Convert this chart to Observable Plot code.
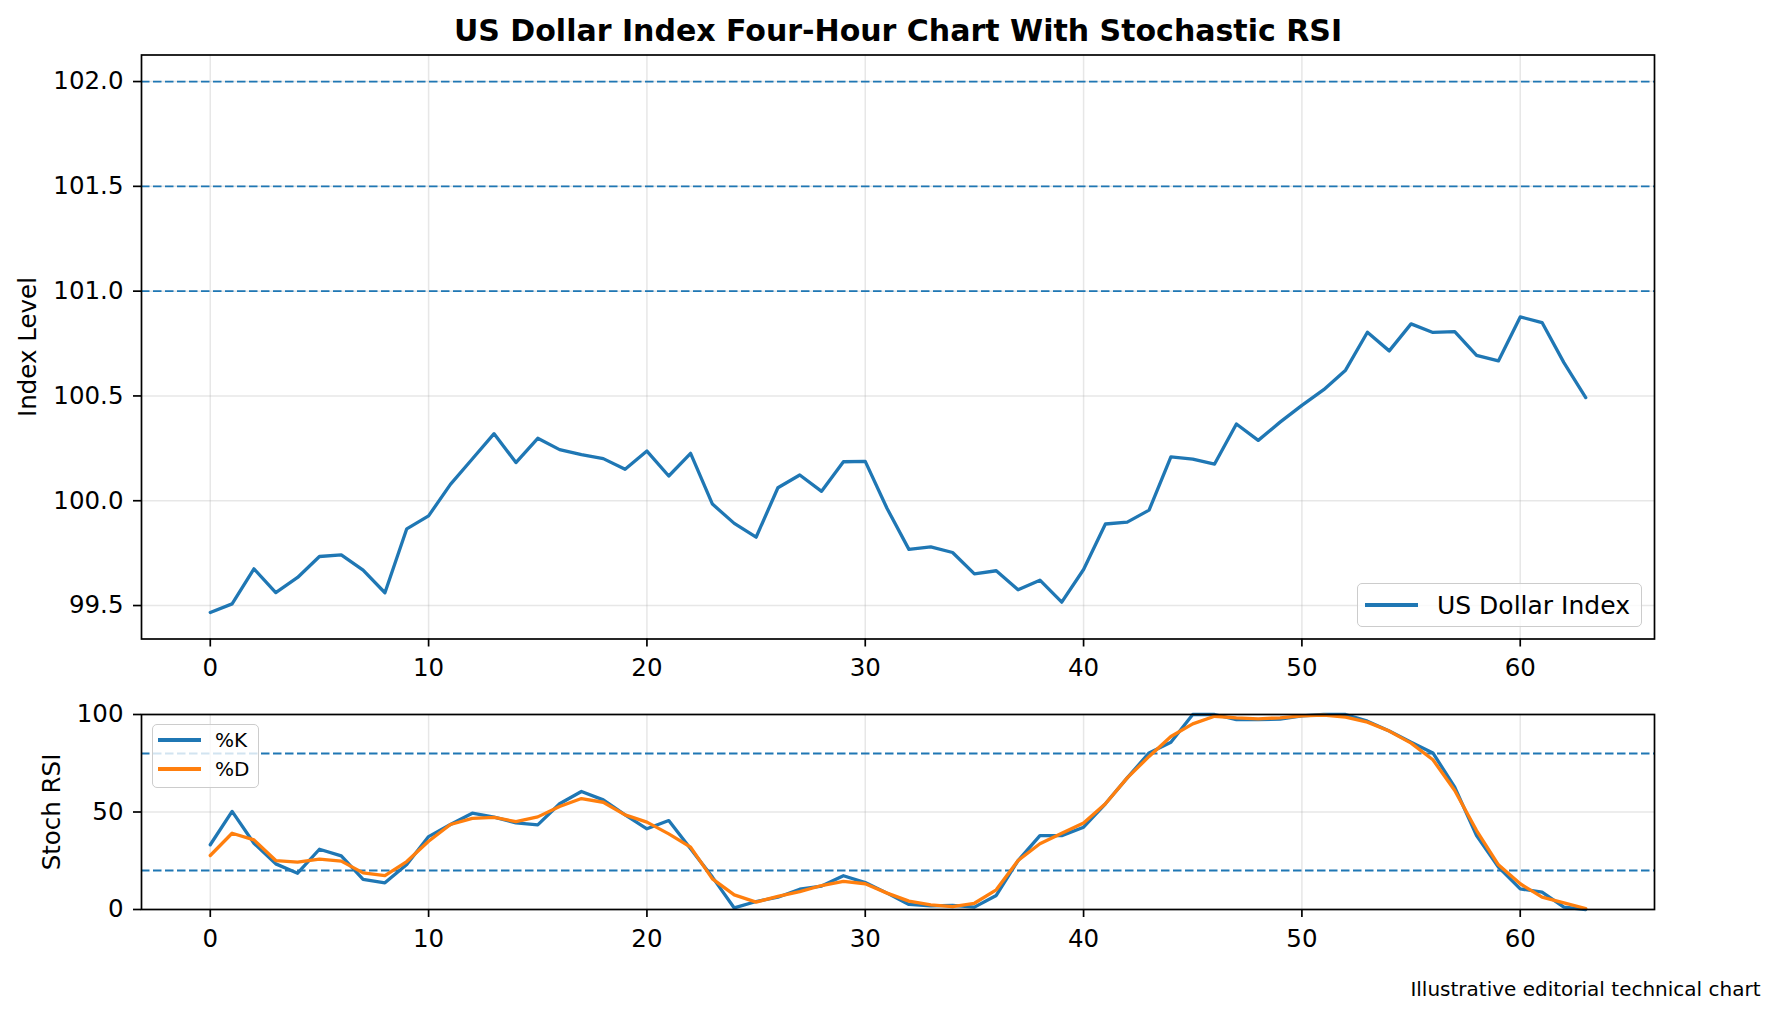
<!DOCTYPE html>
<html>
<head>
<meta charset="utf-8">
<script src="https://cdn.jsdelivr.net/npm/d3@7"></script>
<script src="https://cdn.jsdelivr.net/npm/@observablehq/plot@0.6"></script>
<style>
  html, body { margin: 0; padding: 0; background: white; }
  #root { position: relative; width: 1779px; height: 1017px; overflow: hidden; font-family: "DejaVu Sans", sans-serif; }
  #root svg { display: block; position: absolute; left: 0; }
  .legend { position: absolute; box-sizing: border-box; border: 1.5px solid #cccccc; border-radius: 5px; background: rgba(255,255,255,0.8); z-index: 5; }
  .row { position: absolute; left: 0; display: flex; align-items: center; white-space: nowrap; color: black; }
  .swatch { display: inline-block; height: 3.2px; }
</style>
</head>
<body>
<div id="root"></div>
<script>
// ---- data ----
const dxy = [99.467, 99.508, 99.675, 99.562, 99.634, 99.734, 99.742, 99.669, 99.561, 99.866,
  99.928, 100.078, 100.199, 100.320, 100.182, 100.298, 100.244, 100.220, 100.201, 100.150,
  100.237, 100.118, 100.226, 99.984, 99.892, 99.826, 100.062, 100.123, 100.045, 100.186,
  100.188, 99.963, 99.768, 99.780, 99.753, 99.651, 99.666, 99.575, 99.621, 99.516,
  99.672, 99.889, 99.898, 99.955, 100.209, 100.199, 100.175, 100.366, 100.288, 100.375,
  100.455, 100.530, 100.623, 100.804, 100.715, 100.844, 100.803, 100.807, 100.694, 100.667,
  100.877, 100.850, 100.659, 100.492];
const stochK = [33.2, 50.3, 34.0, 23.4, 18.6, 30.9, 27.5, 15.4, 13.7, 23.1,
  37.4, 43.6, 49.4, 47.4, 44.4, 43.4, 54.2, 60.5, 56.2, 48.5,
  41.4, 45.6, 31.1, 16.6, 0.8, 4.1, 6.3, 10.4, 12.0, 17.3,
  13.8, 8.4, 2.6, 1.9, 2.1, 1.2, 7.2, 25.1, 37.9, 37.9,
  42.2, 54.2, 67.5, 80.3, 85.8, 100, 100, 97.4, 97.4, 97.6,
  99.3, 100, 100, 96.6, 91.5, 85.8, 80.3, 62.7, 37.9, 21.7,
  10.6, 8.9, 1.2, 0];
const stochD = [27.7, 39.1, 35.7, 25.1, 24.3, 25.8, 24.8, 18.8, 17.4, 24.6,
  35.0, 43.6, 46.7, 47.2, 45.1, 47.5, 52.8, 56.9, 55.0, 48.5,
  44.8, 38.8, 32.0, 15.7, 7.5, 3.8, 6.7, 9.2, 12.3, 14.4,
  13.2, 8.4, 4.3, 2.4, 1.5, 3.2, 10.1, 25.1, 33.7, 39.1,
  44.4, 54.2, 67.5, 78.5, 88.7, 95.2, 99.1, 98.3, 97.8, 98.3,
  99.3, 99.7, 98.6, 96.1, 91.5, 85.3, 76.8, 61.0, 40.5, 22.9,
  13.2, 6.3, 3.4, 0.5];
const priceLevels = [101.0, 101.5, 102.0];
const stochLevels = [20, 80];
const xTicks = [0, 10, 20, 30, 40, 50, 60];
const yTicksTop = [99.5, 100.0, 100.5, 101.0, 101.5, 102.0];
const yTicksBottom = [0, 50, 100];
const titleText = "US Dollar Index Four-Hour Chart With Stochastic RSI";
const yLabelTop = "Index Level";
const yLabelBottom = "Stoch RSI";
const captionText = "Illustrative editorial technical chart";
const legendTop = ["US Dollar Index"];
const legendBottom = ["%K", "%D"];

// ---- tables ----
const priceRows = dxy.map((v, i) => ({i, v}));
const kRows = stochK.map((v, i) => ({i, v}));
const dRows = stochD.map((v, i) => ({i, v}));

const nLast = dxy.length - 1;
const xDomain = [0 - 0.05 * nLast, nLast + 0.05 * nLast];
const lo = Math.min(d3.min(dxy), d3.min(priceLevels));
const hi = Math.max(d3.max(dxy), d3.max(priceLevels));
const pad = 0.05 * (hi - lo);
const yDomainTop = [lo - pad, hi + pad];

const BLUE = "#1f77b4", ORANGE = "#ff7f0e";
const gridStyle = {stroke: "#b0b0b0", strokeOpacity: 0.3, strokeWidth: 1.5};
const dashStyle = {stroke: BLUE, strokeWidth: 1.8, strokeDasharray: "8.5,3.5"};
const commonStyle = {fontFamily: "DejaVu Sans", fontSize: "24.5px", background: "transparent", overflow: "visible", color: "black"};

const root = document.getElementById("root");

const topChart = Plot.plot({
  width: 1779, height: 700,
  marginLeft: 141, marginRight: 125, marginTop: 54.5, marginBottom: 61.5,
  style: commonStyle,
  x: {domain: xDomain},
  y: {domain: yDomainTop},
  marks: [
    Plot.gridX(xTicks, gridStyle),
    Plot.gridY(yTicksTop, gridStyle),
    Plot.ruleY(priceLevels, dashStyle),
    Plot.line(priceRows, {x: "i", y: "v", stroke: BLUE, strokeWidth: 3.3}),
    Plot.frame({stroke: "black", strokeWidth: 1.7}),
    Plot.axisX({ticks: xTicks, tickSize: 8, tickPadding: 12, strokeWidth: 1.7, label: null}),
    Plot.axisY({ticks: yTicksTop, tickFormat: d3.format(".1f"), tickSize: 8, tickPadding: 10, strokeWidth: 1.7, label: null}),
    Plot.text([titleText], {frameAnchor: "top", dy: -14, lineAnchor: "bottom", fontWeight: "bold", fontSize: 30}),
    Plot.text([yLabelTop], {frameAnchor: "left", dx: -113, rotate: -90, textAnchor: "middle", lineAnchor: "middle", fontSize: 24.5})
  ]
});
topChart.style.top = "0px";
root.appendChild(topChart);

const bottomChart = Plot.plot({
  width: 1779, height: 317,
  marginLeft: 141, marginRight: 125, marginTop: 14, marginBottom: 108,
  style: commonStyle,
  x: {domain: xDomain},
  y: {domain: [0, 100]},
  marks: [
    Plot.gridX(xTicks, gridStyle),
    Plot.gridY(yTicksBottom, gridStyle),
    Plot.ruleY(stochLevels, dashStyle),
    Plot.line(kRows, {x: "i", y: "v", stroke: BLUE, strokeWidth: 3.3}),
    Plot.line(dRows, {x: "i", y: "v", stroke: ORANGE, strokeWidth: 3.3}),
    Plot.frame({stroke: "black", strokeWidth: 1.7}),
    Plot.axisX({ticks: xTicks, tickSize: 8, tickPadding: 12, strokeWidth: 1.7, label: null}),
    Plot.axisY({ticks: yTicksBottom, tickSize: 8, tickPadding: 10, strokeWidth: 1.7, label: null}),
    Plot.text([yLabelBottom], {frameAnchor: "left", dx: -89, rotate: -90, textAnchor: "middle", lineAnchor: "middle", fontSize: 24.5}),
    Plot.text([captionText], {frameAnchor: "bottom-right", dx: 106, dy: 86, textAnchor: "end", lineAnchor: "bottom", fontSize: 20})
  ]
});
bottomChart.style.top = "700px";
root.appendChild(bottomChart);

// ---- legends (HTML) ----
function legend(box, rows) {
  const div = document.createElement("div");
  div.className = "legend";
  Object.assign(div.style, {left: box.left + "px", top: box.top + "px", width: box.width + "px", height: box.height + "px"});
  rows.forEach(r => {
    const row = document.createElement("div");
    row.className = "row";
    Object.assign(row.style, {top: r.top + "px", height: r.h + "px", fontSize: r.fs + "px", paddingLeft: r.padL + "px"});
    const sw = document.createElement("span");
    sw.className = "swatch";
    Object.assign(sw.style, {width: r.sw + "px", background: r.color, marginRight: r.gap + "px"});
    const tx = document.createElement("span");
    tx.textContent = r.label;
    tx.style.lineHeight = "1";
    row.appendChild(sw);
    row.appendChild(tx);
    div.appendChild(row);
  });
  root.appendChild(div);
}
legend({left: 1357, top: 583, width: 285, height: 44},
  [{label: legendTop[0], color: BLUE, top: 4, h: 34, fs: 25, padL: 7, sw: 53, gap: 19}]);
legend({left: 152, top: 724, width: 107, height: 64},
  [{label: legendBottom[0], color: BLUE, top: 3, h: 24, fs: 20, padL: 5, sw: 43, gap: 14},
   {label: legendBottom[1], color: ORANGE, top: 32, h: 24, fs: 20, padL: 5, sw: 43, gap: 14}]);
</script>
</body>
</html>
